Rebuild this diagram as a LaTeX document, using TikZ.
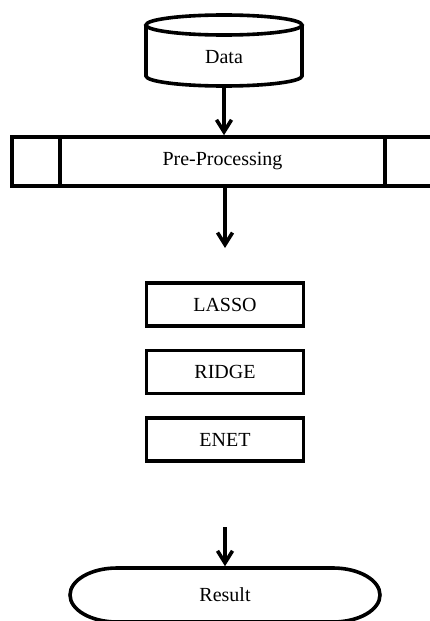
\documentclass[tikz,border=0pt]{standalone}
\usepackage{fontspec}
\setmainfont{Liberation Serif}
\usetikzlibrary{arrows.meta, positioning}

\begin{document}
\begin{tikzpicture}[
            x = 1pt, y = -1pt, % pixel grid, y grows downwards
            > = {Straight Barb[length=12pt, width=15pt]}, % arrow head style
            node distance = 21pt, % gap between the method boxes
            line width = 3.6pt % line style
        ]

        \tikzstyle{every node}=[
        font = \fontsize{20}{24}\selectfont,
        inner sep = 1pt
        ]
        \tikzstyle{method}=[
        draw = black,
        rectangle,
        minimum width = 157pt,
        minimum height = 43pt
        ]

        \useasboundingbox (0,0) rectangle (429,621);

        % data store as a cylinder (angles are mirrored since y points down)
        \draw (146,25) -- (146,76) arc[start angle=180, end angle=0, x radius=78, y radius=10] -- (302,25);
        \draw (224,25) ellipse [x radius=78, y radius=10];
        \node[minimum height=58pt] (data) at (224,57) {Data};

        % predefined process: box with two inner bars
        \node[draw, minimum width=421pt, minimum height=49pt] (prep) at (222.5,161.5) {Pre-Processing};
        \draw ([xshift=50pt]prep.north west) -- ([xshift=50pt]prep.south west);
        \draw ([xshift=-50pt]prep.north east) -- ([xshift=-50pt]prep.south east);
        \coordinate (gap) at (225,248);

        \node[method] (lasso) at (225,304.5) {LASSO};
        \node[method] (ridge) [below=of lasso] {RIDGE};
        \node[method] (enet) [below=of ridge] {ENET};

        % terminal with elliptic ends
        \coordinate (out) at (225,527);
        \node[minimum height=54pt] (result) at (225,595) {Result};
        \draw (117,568) -- (333,568) arc[start angle=-90, end angle=90, x radius=47, y radius=27]
            -- (117,622) arc[start angle=90, end angle=270, x radius=47, y radius=27] -- cycle;

        \draw[->] (data.south) -- (data.south |- prep.north);
        \draw[->] (prep.south -| gap) -- (gap);
        \draw[->] (out) -- (result.north);
    \end{tikzpicture}
\end{document}
